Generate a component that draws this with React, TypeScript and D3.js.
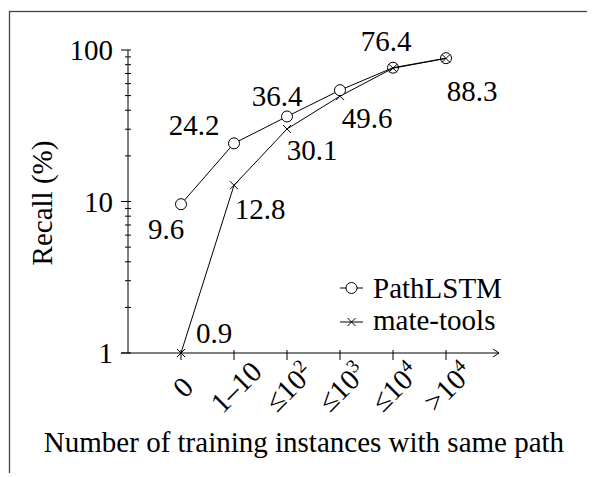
import React, { useEffect, useRef } from 'react';
import * as d3 from 'd3';

// categories on the x axis (number of training instances with same path)
const categories = ['0', '1–10', '≤10^2', '≤10^3', '≤10^4', '>10^4'];

// recall in percent for each system
const pathLstm = [9.6, 24.2, 36.4, 54.3, 76.4, 88.3];
const mateTools = [0.9, 12.8, 30.1, 49.6, 75.8, 88.0];

// which values get a printed label (null = none), with label offsets
const pathLstmLabels = [[-15, 25], [-40, -18], [-10, -20], null, [-7, -27], [26, 33]];
const mateToolsLabels = [[33, -20], [26, 24], [25, 21], [27, 22], null, null];

const yTicks = [1, 10, 100];

const W = 595;
const H = 477;
const FS = 29;
const FONT = 'Liberation Serif';

const App = () => {
  const svgRef = useRef<SVGSVGElement>(null);

  useEffect(() => {
    const svg = d3.select(svgRef.current);
    svg.selectAll('*').remove();

    const x = d3.scalePoint<string>().domain(categories).range([128, 499]).padding(1);
    const y = d3.scaleLog().domain([1, 100]).range([353, 50]).clamp(true);
    const x0 = 128;
    const xEnd = 499;
    const y0 = y(1);

    const addText = (sel: d3.Selection<any, any, any, any>) =>
      sel
        .append('text')
        .attr('font-family', FONT)
        .attr('font-size', FS)
        .style('font-family', FONT)
        .attr('fill', 'black');

    // frame
    svg
      .append('rect')
      .attr('x', 9.5)
      .attr('y', 11.5)
      .attr('width', W)
      .attr('height', H)
      .attr('fill', 'none')
      .attr('stroke', '#444')
      .attr('stroke-width', 1.3);

    // y axis
    svg
      .append('line')
      .attr('x1', x0)
      .attr('x2', x0)
      .attr('y1', y0)
      .attr('y2', y(100))
      .attr('stroke', 'black');

    const minorTicks: number[] = [];
    for (let dec = 1; dec < 100; dec *= 10) {
      for (let k = 2; k < 10; k++) minorTicks.push(k * dec);
    }
    minorTicks.forEach((t) => {
      svg
        .append('line')
        .attr('x1', x0 - 3)
        .attr('x2', x0 + 3)
        .attr('y1', y(t))
        .attr('y2', y(t))
        .attr('stroke', 'black');
    });
    yTicks.forEach((t) => {
      svg
        .append('line')
        .attr('x1', x0 - 7)
        .attr('x2', x0 + 3)
        .attr('y1', y(t))
        .attr('y2', y(t))
        .attr('stroke', 'black');
      addText(svg)
        .attr('x', x0 - 15)
        .attr('y', y(t) + 10)
        .attr('text-anchor', 'end')
        .text(String(t));
    });
    addText(svg)
      .attr('transform', 'translate(52, 203) rotate(-90)')
      .attr('text-anchor', 'middle')
      .text('Recall (%)');

    // x axis with open arrow head
    svg
      .append('line')
      .attr('x1', x0 - 7)
      .attr('x2', xEnd)
      .attr('y1', y0)
      .attr('y2', y0)
      .attr('stroke', 'black');
    svg
      .append('path')
      .attr('d', `M${xEnd - 6},${y0 - 4} L${xEnd},${y0} L${xEnd - 6},${y0 + 4}`)
      .attr('fill', 'none')
      .attr('stroke', 'black');

    categories.forEach((c) => {
      const cx = x(c) as number;
      svg
        .append('line')
        .attr('x1', cx)
        .attr('x2', cx)
        .attr('y1', y0 - 3)
        .attr('y2', y0 + 7)
        .attr('stroke', 'black');
      const [base, exp] = c.split('^');
      const t = addText(svg)
        .attr('transform', `translate(${cx + 9}, ${y0 + 41}) rotate(-45)`)
        .attr('text-anchor', 'middle');
      t.append('tspan').text(base);
      if (exp) {
        t.append('tspan').attr('font-size', 19).attr('dy', -11).text(exp);
      }
    });
    addText(svg)
      .attr('x', 304)
      .attr('y', 452)
      .attr('text-anchor', 'middle')
      .text('Number of training instances with same path');

    // series lines
    const line = d3
      .line<number>()
      .x((_, i) => x(categories[i]) as number)
      .y((d) => y(d));
    svg
      .append('path')
      .attr('d', line(mateTools))
      .attr('fill', 'none')
      .attr('stroke', 'black');
    svg
      .append('path')
      .attr('d', line(pathLstm))
      .attr('fill', 'none')
      .attr('stroke', 'black');

    // mate-tools crosses
    mateTools.forEach((v, i) => {
      const cx = x(categories[i]) as number;
      const cy = y(v);
      svg
        .append('path')
        .attr('d', `M${cx - 4},${cy - 4}L${cx + 4},${cy + 4}M${cx - 4},${cy + 4}L${cx + 4},${cy - 4}`)
        .attr('stroke', 'black');
    });
    // PathLSTM circles
    pathLstm.forEach((v, i) => {
      svg
        .append('circle')
        .attr('cx', x(categories[i]) as number)
        .attr('cy', y(v))
        .attr('r', 5.5)
        .attr('fill', i >= 4 ? 'none' : 'white')
        .attr('stroke', 'black');
    });

    // value labels
    const labelSeries = (vals: number[], offs: (number[] | null)[]) => {
      vals.forEach((v, i) => {
        const off = offs[i];
        if (!off) return;
        addText(svg)
          .attr('x', (x(categories[i]) as number) + off[0])
          .attr('y', y(v) + off[1] + 10)
          .attr('text-anchor', 'middle')
          .text(v.toFixed(1));
      });
    };
    labelSeries(pathLstm, pathLstmLabels);
    labelSeries(mateTools, mateToolsLabels);

    // legend
    svg.append('line').attr('x1', 340).attr('x2', 363).attr('y1', 288).attr('y2', 288).attr('stroke', 'black');
    svg
      .append('circle')
      .attr('cx', 351.5)
      .attr('cy', 288)
      .attr('r', 5.5)
      .attr('fill', 'white')
      .attr('stroke', 'black');
    addText(svg).attr('x', 373).attr('y', 298).text('PathLSTM');
    svg.append('line').attr('x1', 340).attr('x2', 363).attr('y1', 322).attr('y2', 322).attr('stroke', 'black');
    svg
      .append('path')
      .attr('d', 'M347.5,318L355.5,326M347.5,326L355.5,318')
      .attr('stroke', 'black');
    addText(svg).attr('x', 373).attr('y', 330).text('mate-tools');
  }, []);

  return (
    <div style={{ margin: -8 }}>
      <svg ref={svgRef} width={W} height={H} />
    </div>
  );
};

export default App;
